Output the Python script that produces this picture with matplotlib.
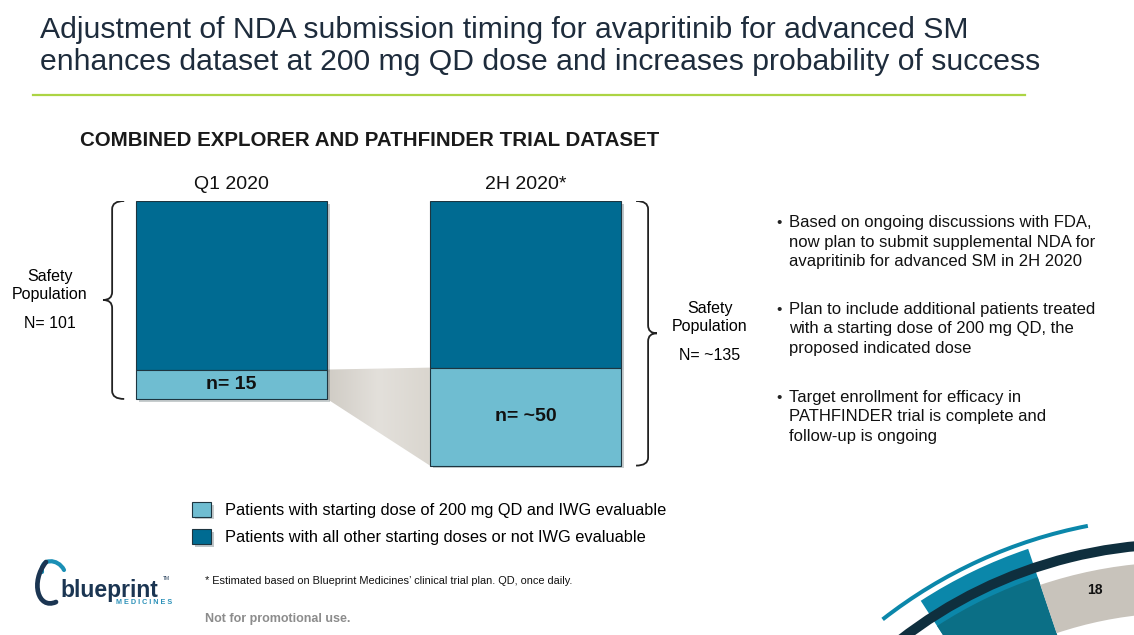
import numpy as np
import matplotlib.pyplot as plt
from matplotlib.patches import Polygon, Wedge, PathPatch
from matplotlib.path import Path
from matplotlib.colors import LinearSegmentedColormap
import matplotlib.patheffects as pe

plt.rcParams['font.family'] = ['Liberation Sans', 'DejaVu Sans']

# data
categories = ["Q1 2020", "2H 2020*"]
other_doses = [86, 85]        # all other starting doses or not IWG evaluable
iwg_200mg = [15, 50]          # starting dose 200 mg QD and IWG evaluable
n_labels = ["n= 15", "n= ~50"]
safety_labels = ["N= 101", "N= ~135"]
legend_labels = ["Patients with starting dose of 200 mg QD and IWG evaluable",
                 "Patients with all other starting doses or not IWG evaluable"]
bullets = [
    "Based on ongoing discussions with FDA,\nnow plan to submit supplemental NDA for\navapritinib for advanced SM in 2H 2020",
    "Plan to include additional patients treated\nwith a starting dose of 200 mg QD, the\nproposed indicated dose",
    "Target enrollment for efficacy in\nPATHFINDER trial is complete and\nfollow-up is ongoing",
]

DARK = '#006b92'
LIGHT = '#6fbdd1'
NAVY = '#1e2c3c'
W, H = 1134, 635

fig = plt.figure(figsize=(W / 100, H / 100), dpi=100)

# background layer in pixel coordinates (y down)
bg = fig.add_axes([0, 0, 1, 1])
bg.set_xlim(0, W)
bg.set_ylim(H, 0)
bg.axis('off')

# title + rule
bg.text(40, 30, "Adjustment of NDA submission timing for avapritinib for advanced SM",
        fontsize=21.7, color=NAVY, va='center')
bg.text(40, 62, "enhances dataset at 200 mg QD dose and increases probability of success",
        fontsize=21.7, color=NAVY, va='center')
bg.plot([33, 1025], [95, 95], color='#acd444', lw=1.6)

bg.text(80, 141, "COMBINED EXPLORER AND PATHFINDER TRIAL DATASET", fontsize=14.8,
        fontweight='bold', color='#1a1a1a', va='center')

# safety population labels
bg.text(50, 285, "Safety\nPopulation", fontsize=11.5, ha='center', va='center', linespacing=1.25)
bg.text(50, 324, safety_labels[0], fontsize=11.5, ha='center', va='center')
bg.text(710, 317, "Safety\nPopulation", fontsize=11.5, ha='center', va='center', linespacing=1.25)
bg.text(710, 356, safety_labels[1], fontsize=11.5, ha='center', va='center')

# bullets
for yc, txt in zip([242, 329, 417], bullets):
    bg.text(779, yc - 19, "\u2022", fontsize=11, ha='center', va='center', color='#222222')
    bg.text(789, yc, txt, fontsize=12, va='center', linespacing=1.36, color='#111111')

# footnotes
bg.text(205, 581, "* Estimated based on Blueprint Medicines\u2019 clinical trial plan. QD, once daily.",
        fontsize=7.9, va='center', color='#111111')
bg.text(205, 619, "Not for promotional use.", fontsize=9, fontweight='bold',
        va='center', color='#8c8c8c')

# logo
bg.text(60, 590, "blueprint", fontsize=16.5, fontweight='bold', color='#1b3552', va='center')
bg.text(163, 578, "TM", fontsize=3.5, color='#1b3552', va='center')
bg.text(116, 603, "M E D I C I N E S", fontsize=5.2, fontweight='bold', color='#2a90b8', va='center')
teal_swoosh = Path([(42, 572), (40, 558), (58, 558), (64, 570)],
                   [Path.MOVETO, Path.CURVE4, Path.CURVE4, Path.CURVE4])
bg.add_patch(PathPatch(teal_swoosh, fill=False, lw=3.0, color='#1a8fb5', capstyle='round'))
navy_swoosh = Path([(46, 562), (30, 582), (38, 610), (56, 602)],
                   [Path.MOVETO, Path.CURVE4, Path.CURVE4, Path.CURVE4])
bg.add_patch(PathPatch(navy_swoosh, fill=False, lw=3.4, color='#1b3552', capstyle='round'))

# corner decoration (concentric arcs, angles flipped because y is down)
c = (1180, 1000)
bg.add_patch(Wedge(c, 476, -123, -108.6, color='#0b87aa', lw=0))
bg.add_patch(Wedge(c, 446, -123, -108.6, color='#0b6f86', lw=0))
bg.add_patch(Wedge(c, 438, -108.6, -80, width=51, color='#c8c3bb', lw=0))
bg.add_patch(Wedge(c, 461, -128, -80, width=10, color='#0f2f3e', lw=0))
bg.add_patch(Wedge(c, 485, -128, -101, width=4, color='#0b87aa', lw=0))
bg.text(1095, 590, "18", fontsize=10, fontweight='bold', va='center', ha='center', color='#111111')

# bar chart axes (pixels 100..660 x, 201..470 y)
scale = 1.96
unit = 294.0
left_px, right_px, top_px, bot_px = 100, 660, 201, 470
ax = fig.add_axes([left_px / W, 1 - bot_px / H, (right_px - left_px) / W, (bot_px - top_px) / H])
ax.set_facecolor('none')

x = np.arange(len(categories))
width = 0.65
totals = [o + i for o, i in zip(other_doses, iwg_200mg)]

# grey projection between the 200 mg segments
poly = Polygon([(x[0] + width / 2, other_doses[0]), (x[0] + width / 2, totals[0]),
                (x[1] - width / 2, totals[1]), (x[1] - width / 2, other_doses[1])],
               closed=True, facecolor='none', edgecolor='none')
ax.add_patch(poly)
cmap = LinearSegmentedColormap.from_list('shade', ['#d0ccc5', '#e3e0db', '#dad6cf'])
im = ax.imshow(np.linspace(0, 1, 64).reshape(1, -1), cmap=cmap, aspect='auto',
               extent=[x[0] + width / 2, x[1] - width / 2, max(totals), 0], zorder=1)
im.set_clip_path(poly)

shadow = [pe.SimplePatchShadow(offset=(2, -2), alpha=0.25), pe.Normal()]
dark_bars = ax.bar(x, other_doses, width, color=DARK, edgecolor='#1d3540', lw=0.8,
                   zorder=2, label=legend_labels[1])
light_bars = ax.bar(x, iwg_200mg, width, bottom=other_doses, color=LIGHT, edgecolor='#1d3540',
                    lw=0.8, zorder=2, label=legend_labels[0])
for p in list(dark_bars) + list(light_bars):
    p.set_path_effects(shadow)

ax.bar_label(light_bars, labels=n_labels, label_type='center', fontsize=14,
             fontweight='bold', color='#111111')


def brace(ax, x_line, x_end, x_tip, y0, y1, r):
    ym = (y0 + y1) / 2
    verts = [(x_end, y0), (x_line, y0), (x_line, y0 + r),
             (x_line, ym - r), (x_line, ym), (x_tip, ym),
             (x_line, ym), (x_line, ym + r),
             (x_line, y1 - r), (x_line, y1), (x_end, y1)]
    codes = [Path.MOVETO, Path.CURVE3, Path.CURVE3,
             Path.LINETO, Path.CURVE3, Path.CURVE3,
             Path.CURVE3, Path.CURVE3,
             Path.LINETO, Path.CURVE3, Path.CURVE3]
    ax.add_patch(PathPatch(Path(verts, codes), fill=False, lw=1.3, color='#222222'))


r = 8 / scale
brace(ax, x[0] - width / 2 - 0.081, x[0] - width / 2 - 0.04, x[0] - width / 2 - 0.112, 0, totals[0], r)
brace(ax, x[1] + width / 2 + 0.092, x[1] + width / 2 + 0.051, x[1] + width / 2 + 0.122, 0, totals[1], r)

x0 = -(231.5 - left_px) / unit
ax.set_xlim(x0, x0 + (right_px - left_px) / unit)
ax.set_ylim((bot_px - top_px) / scale, 0)
ax.xaxis.tick_top()
ax.set_xticks(x, categories)
ax.tick_params(axis='x', length=0, pad=6, labelsize=14, labelcolor='#111111')
ax.set_yticks([])
for s in ax.spines.values():
    s.set_visible(False)

fig.legend(handles=[light_bars, dark_bars], labels=legend_labels, loc='upper left',
           bbox_to_anchor=(192 / W, 1 - 502 / H), frameon=False, fontsize=11.8,
           handlelength=1.15, handleheight=1.0, handletextpad=0.85, labelspacing=0.7,
           borderpad=0, borderaxespad=0)

fig.savefig('out.png', dpi=100)
